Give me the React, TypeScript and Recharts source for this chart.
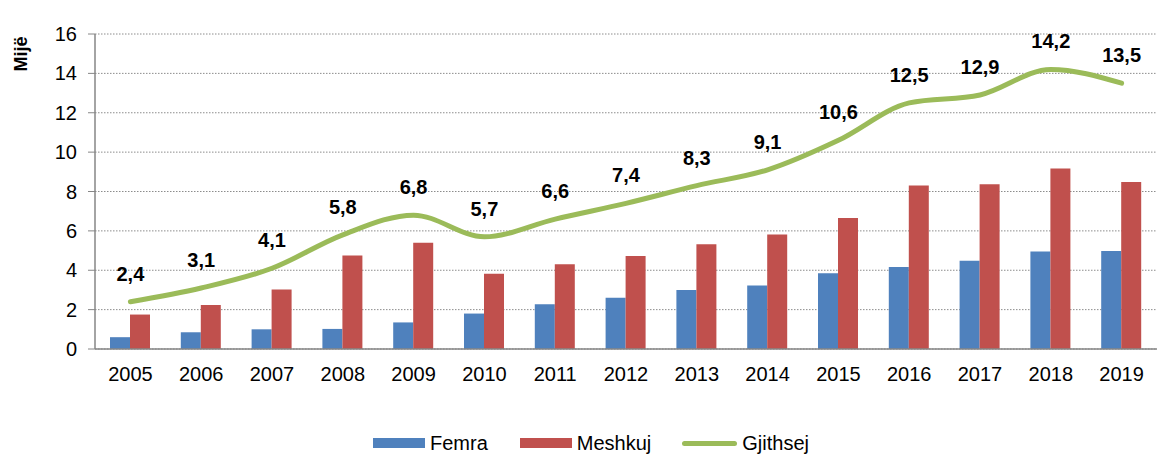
import React from 'react';
import {
  ComposedChart,
  Bar,
  Line,
  XAxis,
  YAxis,
  CartesianGrid,
  Legend,
  LabelList
} from 'recharts';

const years = ['2005', '2006', '2007', '2008', '2009', '2010', '2011', '2012', '2013', '2014', '2015', '2016', '2017', '2018', '2019'];
const femra = [0.6, 0.85, 1.0, 1.02, 1.35, 1.8, 2.27, 2.6, 3.0, 3.22, 3.85, 4.17, 4.48, 4.95, 4.98];
const meshkuj = [1.75, 2.23, 3.02, 4.75, 5.4, 3.82, 4.3, 4.72, 5.32, 5.82, 6.65, 8.3, 8.37, 9.17, 8.48];
const gjithsej = [2.4, 3.1, 4.1, 5.8, 6.8, 5.7, 6.6, 7.4, 8.3, 9.1, 10.6, 12.5, 12.9, 14.2, 13.5];
const yTicks = [0, 2, 4, 6, 8, 10, 12, 14, 16];

const data = years.map((year, i) => ({
  year,
  femra: femra[i],
  meshkuj: meshkuj[i],
  gjithsej: gjithsej[i]
}));

const FONT = '"Liberation Sans", Arial, sans-serif';
const BLUE = '#4F81BD';
const RED = '#C0504D';
const GREEN = '#9BBB59';

const fmt = (v: number) => v.toFixed(1).replace('.', ',');

const LegendBox = () => (
  <div style={{ display: 'flex', alignItems: 'center', height: 46, paddingLeft: 373, paddingTop: 22, boxSizing: 'border-box', fontFamily: FONT, fontSize: 20, color: '#000' }}>
    <span style={{ width: 52, height: 10, background: BLUE, display: 'inline-block', marginRight: 5 }} />
    <span>Femra</span>
    <span style={{ width: 52, height: 10, background: RED, display: 'inline-block', marginLeft: 32, marginRight: 5 }} />
    <span>Meshkuj</span>
    <span style={{ width: 55, height: 5, background: GREEN, borderRadius: 3, display: 'inline-block', marginLeft: 31, marginRight: 5 }} />
    <span>Gjithsej</span>
  </div>
);

export default function App() {
  return (
    <div style={{ position: 'absolute', left: 0, top: 0, background: '#fff' }}>
      <ComposedChart
        width={1157}
        height={455}
        data={data}
        margin={{ top: 34, right: 0, bottom: 0, left: 0 }}
        barCategoryGap="22%"
        barGap={0}
      >
        <CartesianGrid vertical={false} stroke="#8c8c8c" strokeDasharray="1.5 1.5" />
        <XAxis
          dataKey="year"
          height={60}
          tickLine={false}
          axisLine={{ stroke: '#868686', strokeWidth: 1.5 }}
          tick={{ fill: '#000', fontSize: 20, fontFamily: FONT, dy: 10 }}
          interval={0}
        />
        <YAxis
          width={95}
          domain={[0, 16]}
          ticks={yTicks}
          interval={0}
          axisLine={{ stroke: '#868686', strokeWidth: 1.5 }}
          tickLine={{ stroke: '#868686' }}
          tickSize={7}
          tick={{ fill: '#000', fontSize: 20, fontFamily: FONT, dx: -9 }}
          label={{
            content: () => (
              <text
                transform="translate(27,54) rotate(-90)"
                textAnchor="middle"
                fontFamily={FONT}
                fontSize={18}
                fontWeight="bold"
                fill="#000"
              >
                Mijë
              </text>
            )
          }}
        />
        <Legend verticalAlign="bottom" height={46} content={() => <LegendBox />} />
        <Bar dataKey="femra" name="Femra" fill={BLUE} barSize={20} isAnimationActive={false} />
        <Bar dataKey="meshkuj" name="Meshkuj" fill={RED} barSize={20} isAnimationActive={false} />
        <Line
          type="monotone"
          dataKey="gjithsej"
          name="Gjithsej"
          stroke={GREEN}
          strokeWidth={5}
          strokeLinecap="round"
          dot={false}
          activeDot={false}
          isAnimationActive={false}
        >
          <LabelList
            dataKey="gjithsej"
            content={(p: any) => (
              <text
                x={p.x}
                y={p.y - 21}
                textAnchor="middle"
                fontFamily={FONT}
                fontSize={20}
                fontWeight="bold"
                fill="#000"
              >
                {fmt(p.value)}
              </text>
            )}
          />
        </Line>
      </ComposedChart>
    </div>
  );
}
